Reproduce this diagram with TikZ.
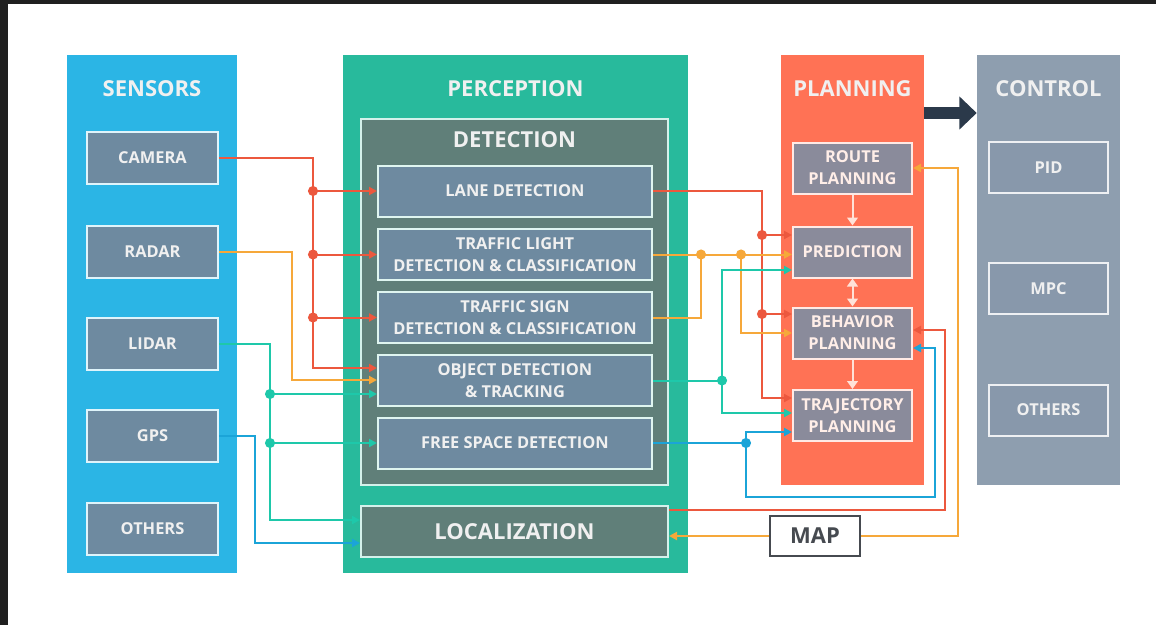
\documentclass[tikz,border=0pt]{standalone}
\usepackage{fontspec}
\setmainfont{Open Sans}
\usepackage{xcolor}
\usepackage{tikz}
\usetikzlibrary{arrows.meta, positioning}
\definecolor{framedark}{RGB}{32,32,32}
\definecolor{sensorblue}{RGB}{43,181,229}
\definecolor{percteal}{RGB}{40,186,156}
\definecolor{detgray}{RGB}{96,127,121}
\definecolor{slatebox}{RGB}{110,138,160}
\definecolor{plancoral}{RGB}{255,114,85}
\definecolor{plangray}{RGB}{138,139,155}
\definecolor{planlight}{RGB}{255,226,216}
\definecolor{ctrlgray}{RGB}{142,158,175}
\definecolor{ctrlbox}{RGB}{136,152,171}
\definecolor{arrownavy}{RGB}{43,57,74}
\definecolor{mapgray}{RGB}{70,74,80}
\definecolor{wirered}{RGB}{236,88,62}
\definecolor{wireorange}{RGB}{246,168,58}
\definecolor{wireteal}{RGB}{30,200,170}
\definecolor{wireblue}{RGB}{27,164,216}

\begin{document}
\begin{tikzpicture}[
    x=0.75pt, y=-0.75pt,
    panel/.style={rectangle, inner sep=0pt},
    ptitle/.style={text=white!94!black, font=\fontsize{16.5}{19}\selectfont\bfseries},
    sbox/.style={rectangle, draw=white!85!sensorblue, line width=1.5pt, fill=slatebox, text=white!94!black, font=\fontsize{12.3}{16.5}\selectfont\bfseries, align=center, inner sep=0pt, minimum width=98.25pt, minimum height=39pt},
    dbox/.style={sbox, draw=white!85!percteal, minimum width=205.5pt, minimum height=38.25pt},
    pbox/.style={sbox, fill=plangray, draw=white!85!plancoral, text=planlight!60!white, minimum width=89.25pt, minimum height=38.25pt},
    cbox/.style={sbox, fill=ctrlbox, draw=white!85!ctrlgray, minimum width=89.25pt, minimum height=38.25pt},
    wire/.style={line width=1.5pt},
    arr/.style={wire, -{Triangle[length=6pt, width=6pt]}},
]

% frame
\fill[framedark] (0,0) rectangle (1156,625);
\fill[white] (8,4) rectangle (1156,625);
\useasboundingbox (0,0) rectangle (1156,625);

% Sensors (left)
\node[panel, fill=sensorblue, minimum width=127.5pt, minimum height=388.5pt] (sensors) at (152,314) {};
\node[ptitle] (sensorstitle) at (152,89) {SENSORS};
\node[sbox] (camera) at (152.5,158) {CAMERA};
\node[sbox] (radar) at (152.5,251.5) {RADAR};
\node[sbox] (lidar) at (152.5,344) {LIDAR};
\node[sbox] (gps) at (152.5,435.5) {GPS};
\node[sbox] (sensothers) at (152.5,529) {OTHERS};

% Perception (middle)
\node[panel, fill=percteal, minimum width=258.75pt, minimum height=388.5pt] (perception) at (515.5,314) {};
\node[ptitle] (perctitle) at (515.5,89) {PERCEPTION};
\node[panel, fill=detgray, draw=white!80!percteal, line width=1.5pt, minimum width=230.25pt, minimum height=274.5pt] (detection) at (514.5,302) {};
\node[ptitle] (dettitle) at (514.5,140) {DETECTION};
\node[dbox] (lane) at (515,191) {LANE DETECTION};
\node[dbox] (tlight) at (515,254.5) {TRAFFIC LIGHT\\DETECTION \& CLASSIFICATION};
\node[dbox] (tsign) at (515,317.5) {TRAFFIC SIGN\\DETECTION \& CLASSIFICATION};
\node[dbox] (objdet) at (515,380.5) {OBJECT DETECTION\\\& TRACKING};
\node[dbox] (freespace) at (515,443) {FREE SPACE DETECTION};
\node[panel, fill=detgray, draw=white!80!percteal, line width=1.5pt, text=white!94!black, font=\fontsize{16.5}{19}\selectfont\bfseries, minimum width=230.25pt, minimum height=38.25pt] (localization) at (514.5,531.5) {LOCALIZATION};

% Planning
\node[panel, fill=plancoral, minimum width=107.25pt, minimum height=322.5pt] (planning) at (852.5,270) {};
\node[ptitle] (plantitle) at (852.5,89) {PLANNING};
\node[pbox] (route) at (852.5,168) {ROUTE\\PLANNING};
\node[pbox] (prediction) at (852.5,252) {PREDICTION};
\node[pbox] (behavior) at (852.5,333) {BEHAVIOR\\PLANNING};
\node[pbox] (trajectory) at (852.5,415.5) {TRAJECTORY\\PLANNING};

\draw[wire, planlight, -{Triangle[length=6pt, width=8pt]}] (route.south) -- (prediction.north);
\draw[wire, planlight, {Triangle[length=6pt, width=8pt]}-{Triangle[length=6pt, width=8pt]}] (prediction.south) -- (behavior.north);
\draw[wire, planlight, -{Triangle[length=6pt, width=8pt]}] (behavior.south) -- (trajectory.north);

% Control (right)
\node[panel, fill=ctrlgray, minimum width=107.25pt, minimum height=322.5pt] (control) at (1048.5,270) {};
\node[ptitle] (ctrltitle) at (1048.5,89) {CONTROL};
\node[cbox] (pid) at (1048.5,167.5) {PID};
\node[cbox] (mpc) at (1048.5,288.5) {MPC};
\node[cbox] (ctrlothers) at (1048.5,410) {OTHERS};

\draw[line width=9pt, arrownavy, -{Triangle[length=13pt, width=24pt]}] (planning.east |- 0,113) -- (control.west |- 0,113);

% Map
\node[rectangle, draw=mapgray, line width=1.5pt, fill=white, text=mapgray, font=\fontsize{16.5}{19}\selectfont\bfseries, inner sep=0pt, minimum width=67.5pt, minimum height=30pt] (map) at (815,536) {MAP};

% Sensors -> perception
\draw[arr, wirered] (camera.east) -| (313,368) -- (objdet.west |- 313,368);
\draw[arr, wirered] (313,191) -- (lane.west);
\draw[arr, wirered] (313,254.5) -- (tlight.west);
\draw[arr, wirered] (313,317.5) -- (tsign.west);
\fill[wirered] (313,191) circle (3.8pt);
\fill[wirered] (313,254.5) circle (3.8pt);
\fill[wirered] (313,317.5) circle (3.8pt);

\draw[arr, wireorange] (radar.east) -| (292,380) -- (objdet.west |- 292,380);

\draw[arr, wireteal] (lidar.east) -| (270,520) -- (localization.west |- 270,520);
\draw[arr, wireteal] (270,394) -- (objdet.west |- 270,394);
\draw[arr, wireteal] (270,443) -- (freespace.west);
\fill[wireteal] (270,394) circle (3.8pt);
\fill[wireteal] (270,443) circle (3.8pt);

\draw[arr, wireblue] (gps.east) -| (255,543) -- (localization.west |- 255,543);

% Perception -> planning
\draw[arr, wirered] (lane.east) -| (762,398) -- (trajectory.west |- 762,398);
\draw[arr, wirered] (762,235) -- (prediction.west |- 762,235);
\draw[arr, wirered] (762,314) -- (behavior.west |- 762,314);
\fill[wirered] (762,235) circle (3.8pt);
\fill[wirered] (762,314) circle (3.8pt);

\draw[arr, wireorange] (tlight.east) -- (prediction.west |- tlight.east);
\draw[wire, wireorange] (tsign.east) -| (701,254.5);
\draw[arr, wireorange] (741,254.5) |- (behavior.west);
\fill[wireorange] (701,254.5) circle (3.8pt);
\fill[wireorange] (741,254.5) circle (3.8pt);

\draw[arr, wireteal] (objdet.east) -- (722,380.5) |- (prediction.west |- 722,270);
\draw[arr, wireteal] (722,380.5) |- (trajectory.west |- 722,413);
\fill[wireteal] (722,380.5) circle (3.8pt);

\draw[arr, wireblue] (freespace.east) -- (746,443) |- (trajectory.west |- 746,432);
\draw[arr, wireblue] (746,443) |- (935,497) |- (behavior.east |- 935,348);
\fill[wireblue] (746,443) circle (3.8pt);

\draw[arr, wirered] (localization.east |- 668,510) -| (945,330) -- (behavior.east |- 945,330);

% Map links
\draw[arr, wireorange] (map.east) -| (958,168) -- (route.east);
\draw[arr, wireorange] (map.west) -- (localization.east |- map.west);

\end{tikzpicture}
\end{document}
